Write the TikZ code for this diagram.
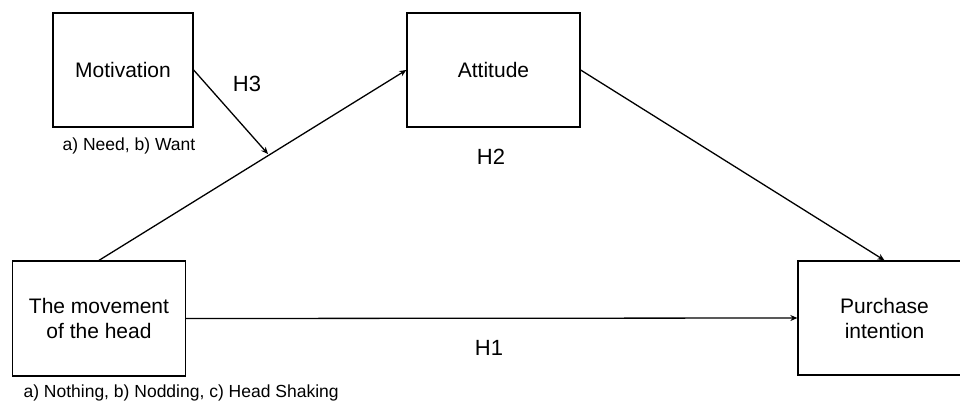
\documentclass[tikz,border=0pt]{standalone}
\usepackage{fontspec}
\setmainfont{Liberation Sans}
\usetikzlibrary{arrows.meta}

\begin{document}
\begin{tikzpicture}[x=1pt,y=-1pt,
  varbox/.style={draw,line width=1.3pt,align=center,inner sep=0pt,
    font=\fontsize{21}{25}\selectfont},
  hyp/.style={font=\fontsize{22}{26}\selectfont},
  captext/.style={font=\fontsize{17.5}{21}\selectfont},
  link/.style={line width=1.3pt,-{Stealth[length=7pt,width=6pt]}}]
\clip (0,0) rectangle (960,405);
\node[varbox,minimum width=140,minimum height=114] (motiv) at (123,70) {Motivation};
\node[varbox,minimum width=173,minimum height=114] (attit) at (493.5,70) {Attitude};
\node[varbox,minimum width=173,minimum height=115] (move) at (99,318.5) {The movement\\of the head};
\node[varbox,minimum width=173,minimum height=114] (purch) at (884.5,318) {Purchase\\intention};
\node[captext] (capmot) at (129,146) {a) Need, b) Want};
\node[captext,anchor=west] (capmove) at (20,393) {a) Nothing, b) Nodding, c) Head Shaking};
\node[hyp] (hthree) at (247,84) {H3};
\node[hyp] (htwo) at (491,157) {H2};
\node[hyp] (hone) at (489,348) {H1};
\coordinate (hmeet) at (268,154);
\draw[link] (move.north) -- (attit.west);
\draw[link] (attit.east) -- (purch.north);
\draw[link] (move.east) -- (purch.west);
\draw[link] (motiv.east) -- (hmeet);
\end{tikzpicture}
\end{document}
